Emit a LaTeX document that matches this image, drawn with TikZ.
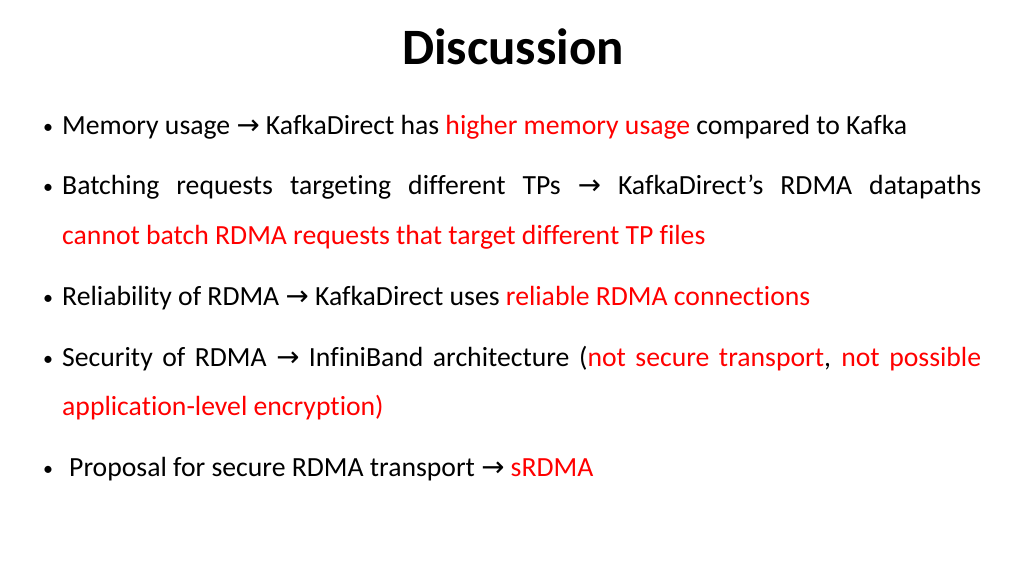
\documentclass[tikz,border=0pt]{standalone}
\usepackage{fontspec}
\setmainfont[Ligatures={NoCommon}]{Carlito}
\newfontfamily\dvs[Scale=1.0]{DejaVu Sans}
\definecolor{rd}{RGB}{255,0,0}
\newcommand{\ar}{{\dvs →}}
\newcommand{\R}[1]{\textcolor{rd}{#1}}
\begin{document}
\begin{tikzpicture}[x=1pt,y=1pt,
  txt/.style={anchor=base west,inner sep=0pt,font=\fontsize{27.7}{32}\selectfont},
  bul/.style={anchor=base,inner sep=0pt,font=\fontsize{20}{24}\selectfont}]
\useasboundingbox (0,0) rectangle (1024,-576);
\node[anchor=base,inner sep=0pt,font=\fontsize{51}{56}\selectfont\bfseries] (title) at (513,-64) {Discussion};
\foreach \y/\n in {133/b1,193/b2,304/b3,365/b4,475/b5}{\node[bul] (\n) at (48,-\y) {\textbullet};}
\node[txt] (t1) at (62,-134) {Memory usage \ar{} KafkaDirect has \R{higher memory usage} compared to Kafka};
\node[txt] (t2) at (62,-194) {\makebox[919pt][s]{Batching requests targeting different TPs \ar{} KafkaDirect’s RDMA datapaths}};
\node[txt] (t2b) at (62,-244) {\R{cannot batch RDMA requests that target different TP files}};
\node[txt] (t3) at (62,-305) {Reliability of RDMA \ar{} KafkaDirect uses \R{reliable RDMA connections}};
\node[txt] (t4) at (62,-366) {\makebox[919pt][s]{Security of RDMA \ar{} InfiniBand architecture (\R{not secure transport}, \R{not possible}}};
\node[txt] (t4b) at (62,-415) {\R{application-level encryption)}};
\node[txt] (t5) at (69,-476) {Proposal for secure RDMA transport \ar{} \R{sRDMA}};
\end{tikzpicture}
\end{document}
